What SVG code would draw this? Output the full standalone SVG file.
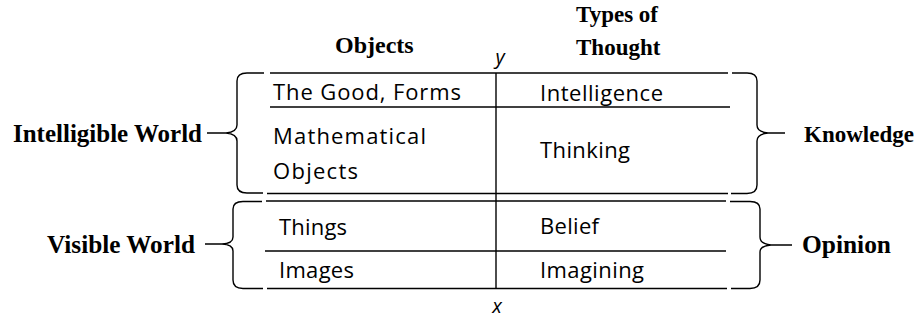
<svg xmlns="http://www.w3.org/2000/svg" width="917" height="324" viewBox="0 0 917 324">
<style>
.ser{font-family:"Liberation Serif","Times New Roman",serif;font-weight:bold;font-size:25px;fill:#000}
.san{font-family:"Open Sans","Noto Sans",sans-serif;font-size:22px;fill:#000}
.var{font-family:"Open Sans","Noto Sans",sans-serif;font-style:italic;font-size:20px;fill:#000}
.ln{stroke:#000;stroke-width:1.4;fill:none}
.br{stroke:#000;stroke-width:1.4;fill:none;stroke-linejoin:round}
</style>
<rect width="917" height="324" fill="#fff"/>
<g id="headers">
<text class="ser" x="335" y="53" style="font-size:24px">Objects</text>
<text class="ser" x="576" y="22" style="font-size:23px">Types of</text>
<text class="ser" x="576" y="55" style="font-size:23px">Thought</text>
<text class="var" x="500" y="64" text-anchor="middle">y</text>
<text class="var" x="497" y="313" text-anchor="middle">x</text>
</g>
<g id="connectors">
<line class="ln" x1="496" y1="73" x2="496" y2="289"/>
<line class="ln" x1="270" y1="73" x2="728" y2="73"/>
<line class="ln" x1="270" y1="107" x2="730" y2="107"/>
<line class="ln" x1="267" y1="193.5" x2="728" y2="193.5"/>
<line class="ln" x1="266" y1="201" x2="726" y2="201"/>
<line class="ln" x1="265" y1="251" x2="726" y2="251"/>
<line class="ln" x1="267" y1="288.5" x2="727" y2="288.5"/>
</g>
<g id="cells">
<text class="san" x="273" y="100" textLength="188" lengthAdjust="spacing">The Good, Forms</text>
<text class="san" x="540" y="101" textLength="123" lengthAdjust="spacing">Intelligence</text>
<text class="san" x="273" y="144" textLength="153" lengthAdjust="spacing">Mathematical</text>
<text class="san" x="273" y="179" textLength="85" lengthAdjust="spacing">Objects</text>
<text class="san" x="540" y="158" textLength="90" lengthAdjust="spacing">Thinking</text>
<text class="san" x="279" y="235" textLength="68" lengthAdjust="spacing">Things</text>
<text class="san" x="540" y="234" textLength="59" lengthAdjust="spacing">Belief</text>
<text class="san" x="279" y="278" textLength="75" lengthAdjust="spacing">Images</text>
<text class="san" x="540" y="278" textLength="104" lengthAdjust="spacing">Imagining</text>
</g>
<g id="intelligible-world">
<path class="br" d="M264 73 L247 73 Q237 73 237 81 L237 125 Q237 132 226 133 L207 133 M226 133 Q237 134 237 141 L237 185 Q237 193 247 193 L263 193"/>
<text class="ser" x="13" y="142" textLength="189" lengthAdjust="spacingAndGlyphs">Intelligible World</text>
</g>
<g id="visible-world">
<path class="br" d="M262 201.5 L243 201.5 Q233 201.5 233 209 L233 237 Q233 243.5 222 244 L205 244 M222 244 Q233 244.5 233 251 L233 280 Q233 288.5 243 288.5 L263 288.5"/>
<text class="ser" x="47" y="253" textLength="148" lengthAdjust="spacingAndGlyphs">Visible World</text>
</g>
<g id="knowledge">
<path class="br" d="M732 73 L747 73 Q757 73 757 81 L757 125 Q757 132 768 133 L785 133 M768 133 Q757 134 757 141 L757 185 Q757 193.5 747 193.5 L731 193.5"/>
<text class="ser" x="804" y="142" style="font-size:23px">Knowledge</text>
</g>
<g id="opinion">
<path class="br" d="M730 201.5 L750 201.5 Q760 201.5 760 209 L760 237 Q760 244 771 245 L792 245 M771 245 Q760 246 760 252 L760 280 Q760 288.5 750 288.5 L731 288.5"/>
<text class="ser" x="802" y="253" textLength="89" lengthAdjust="spacingAndGlyphs">Opinion</text>
</g>
</svg>
